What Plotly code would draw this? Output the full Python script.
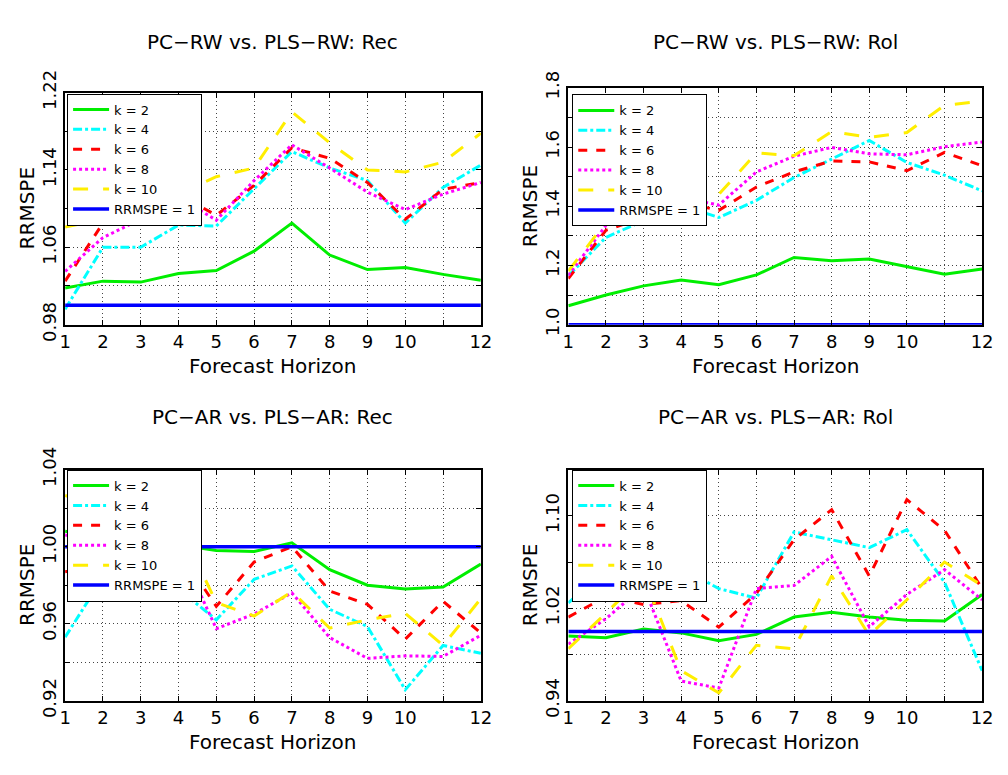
import plotly.graph_objects as go

# ---------------- data ----------------
horizon = list(range(1, 13))
x_tick_labels = ["1", "2", "3", "4", "5", "6", "7", "8", "9", "10", "", "12"]
rrmspe_ref = 1.0

series_names = ["k = 2", "k = 4", "k = 6", "k = 8", "k = 10"]
ref_name = "RRMSPE = 1"

# PC-RW vs PLS-RW: Rec
rw_rec_k2 = [1.018, 1.025, 1.024, 1.033, 1.036, 1.056, 1.085, 1.052, 1.037, 1.039, 1.032, 1.026]
rw_rec_k4 = [0.996, 1.060, 1.060, 1.083, 1.082, 1.120, 1.159, 1.142, 1.129, 1.085, 1.122, 1.145]
rw_rec_k6 = [1.025, 1.085, 1.093, 1.115, 1.093, 1.124, 1.163, 1.152, 1.127, 1.089, 1.120, 1.127]
rw_rec_k8 = [1.035, 1.070, 1.089, 1.112, 1.088, 1.129, 1.166, 1.142, 1.117, 1.099, 1.115, 1.127]
rw_rec_k10 = [1.081, 1.089, 1.094, 1.115, 1.133, 1.142, 1.200, 1.168, 1.140, 1.138, 1.148, 1.178]

# PC-RW vs PLS-RW: Rol
rw_rol_k2 = [1.064, 1.100, 1.131, 1.151, 1.135, 1.168, 1.227, 1.216, 1.222, 1.195, 1.170, 1.188]
rw_rol_k4 = [1.165, 1.295, 1.351, 1.404, 1.362, 1.420, 1.497, 1.559, 1.622, 1.548, 1.505, 1.452]
rw_rol_k6 = [1.156, 1.319, 1.362, 1.415, 1.386, 1.465, 1.516, 1.553, 1.550, 1.520, 1.582, 1.537]
rw_rol_k8 = [1.167, 1.335, 1.404, 1.430, 1.404, 1.516, 1.569, 1.599, 1.577, 1.574, 1.601, 1.617]
rw_rol_k10 = [1.181, 1.346, 1.400, 1.430, 1.440, 1.580, 1.571, 1.652, 1.633, 1.649, 1.741, 1.755]

# PC-AR vs PLS-AR: Rec
ar_rec_k2 = [1.008, 1.005, 1.003, 1.001, 0.998, 0.9975, 1.002, 0.988, 0.980, 0.978, 0.979, 0.991]
ar_rec_k4 = [0.953, 0.984, 0.988, 0.978, 0.962, 0.983, 0.990, 0.9675, 0.9585, 0.9257, 0.9487, 0.9446]
ar_rec_k6 = [0.987, 0.990, 0.995, 0.998, 0.969, 0.992, 1.000, 0.977, 0.970, 0.952, 0.9716, 0.9552]
ar_rec_k8 = [1.006, 1.003, 1.001, 1.000, 0.9574, 0.965, 0.976, 0.9528, 0.942, 0.9433, 0.943, 0.954]
ar_rec_k10 = [1.0266, 1.020, 1.015, 1.012, 0.971, 0.964, 0.9766, 0.9577, 0.962, 0.9654, 0.9487, 0.973]

# PC-AR vs PLS-AR: Rol
ar_rol_k2 = [0.996, 0.9946, 1.002, 0.9987, 0.992, 0.9974, 1.0124, 1.0165, 1.0124, 1.0097, 1.0091, 1.032]
ar_rol_k4 = [1.0247, 1.054, 1.052, 1.055, 1.037, 1.0288, 1.086, 1.0793, 1.0725, 1.088, 1.0425, 0.966]
ar_rol_k6 = [1.0124, 1.030, 1.0233, 1.0266, 1.0037, 1.0329, 1.0793, 1.1053, 1.048, 1.114, 1.0875, 1.037]
ar_rol_k8 = [0.989, 1.011, 1.039, 0.957, 0.951, 1.037, 1.0397, 1.0649, 1.004, 1.032, 1.0534, 1.0274]
ar_rol_k10 = [0.985, 1.0157, 1.048, 0.966, 0.9468, 0.988, 0.985, 1.048, 0.9966, 1.0274, 1.060, 1.0397]

panel_titles = ["PC\u2212RW vs. PLS\u2212RW: Rec", "PC\u2212RW vs. PLS\u2212RW: Rol",
                "PC\u2212AR vs. PLS\u2212AR: Rec", "PC\u2212AR vs. PLS\u2212AR: Rol"]

y_grid_1 = [0.98, 1.02, 1.06, 1.10, 1.14, 1.18, 1.22]
y_text_1 = ["0.98", "", "1.06", "", "1.14", "", "1.22"]
y_grid_2 = [1.0, 1.1, 1.2, 1.3, 1.4, 1.5, 1.6, 1.7, 1.8]
y_text_2 = ["1.0", "", "1.2", "", "1.4", "", "1.6", "", "1.8"]
y_grid_3 = [0.92, 0.94, 0.96, 0.98, 1.00, 1.02, 1.04]
y_text_3 = ["0.92", "", "0.96", "", "1.00", "", "1.04"]
y_grid_4 = [0.94, 0.98, 1.02, 1.06, 1.10, 1.14]
y_text_4 = ["0.94", "", "1.02", "", "1.10", ""]

y_ranges = [[0.98, 1.22], [1.0, 1.8], [0.92, 1.04], [0.94, 1.14]]

panels = [
    [rw_rec_k2, rw_rec_k4, rw_rec_k6, rw_rec_k8, rw_rec_k10],
    [rw_rol_k2, rw_rol_k4, rw_rol_k6, rw_rol_k8, rw_rol_k10],
    [ar_rec_k2, ar_rec_k4, ar_rec_k6, ar_rec_k8, ar_rec_k10],
    [ar_rol_k2, ar_rol_k4, ar_rol_k6, ar_rol_k8, ar_rol_k10],
]
y_grids = [(y_grid_1, y_text_1), (y_grid_2, y_text_2), (y_grid_3, y_text_3), (y_grid_4, y_text_4)]

# ---------------- style ----------------
colors = ["#00ee00", "#00ffff", "#ff0000", "#ff00ff", "#ffee00"]
dashes = ["solid", "dashdot", "dash", "dot", "longdash"]
ref_color = "#0000ff"
FONT = "DejaVu Sans"

OFF = 8
W, H = 1008 - 2 * OFF, 775 - 2 * OFF


def fx(px):
    return (px - OFF) / W


def fy(py):
    return 1 - (py - OFF) / H


# pixel boxes: (left, right, top, bottom)
boxes = [(60, 483, 73, 318), (572, 993, 68, 318), (60, 483, 471, 715), (572, 993, 471, 715)]
legend_pos = [(62, 74), (576, 75), (62, 471), (576, 471)]

fig = go.Figure()
layout = dict(
    width=W, height=H, autosize=False,
    margin=dict(l=0, r=0, t=0, b=0),
    paper_bgcolor="white", plot_bgcolor="white",
    font=dict(family=FONT, color="black", size=16),
    annotations=[],
)

for i in range(4):
    sfx = "" if i == 0 else str(i + 1)
    xa, ya = "x" + sfx, "y" + sfx
    leg = "legend" + sfx
    for j, vals in enumerate(panels[i]):
        fig.add_trace(go.Scatter(
            x=horizon, y=vals, mode="lines", name=series_names[j],
            line=dict(color=colors[j], width=3, dash=dashes[j]),
            xaxis=xa, yaxis=ya, legend=leg, showlegend=True))
    fig.add_trace(go.Scatter(
        x=horizon, y=[rrmspe_ref] * len(horizon), mode="lines", name=ref_name,
        line=dict(color=ref_color, width=3.5),
        xaxis=xa, yaxis=ya, legend=leg, showlegend=True))

    l, r, t, b = boxes[i]
    axis_common = dict(
        showline=True, linecolor="black", linewidth=2, mirror="ticks",
        ticks="inside", ticklen=5, tickcolor="black", tickwidth=1,
        showgrid=True, gridcolor="#444444", griddash="1px,3px", gridwidth=1,
        zeroline=False, tickfont=dict(family=FONT, size=18, color="black"),
    )
    layout["xaxis" + sfx] = dict(
        domain=[fx(l), fx(r)], range=[1, 12], anchor=ya,
        tickmode="array", tickvals=horizon, ticktext=x_tick_labels, **axis_common)
    gv, gt = y_grids[i]
    layout["yaxis" + sfx] = dict(
        domain=[fy(b), fy(t)], range=y_ranges[i], anchor=xa,
        tickmode="array", tickvals=gv, ticktext=gt, tickangle=-90, **axis_common)
    lx, ly = legend_pos[i]
    layout[leg] = dict(
        x=fx(lx), y=fy(ly), xref="paper", yref="paper", xanchor="left", yanchor="top",
        bgcolor="white", bordercolor="black", borderwidth=1, itemwidth=36,
        font=dict(family=FONT, size=13, color="black"), tracegroupgap=0,
    )
    cx = (l + r) / 2
    ty = 20 if i < 2 else 415
    layout["annotations"].append(dict(
        text=panel_titles[i], x=fx(cx), y=fy(ty), xref="paper", yref="paper",
        showarrow=False, xanchor="center", yanchor="middle",
        font=dict(family=FONT, size=20, color="black")))
    layout["annotations"].append(dict(
        text="Forecast Horizon", x=fx(cx), y=fy(b + 44), xref="paper", yref="paper",
        showarrow=False, xanchor="center", yanchor="middle",
        font=dict(family=FONT, size=20, color="black")))
    layout["annotations"].append(dict(
        text="RRMSPE", x=fx(l - 39), y=fy((t + b) / 2), xref="paper", yref="paper",
        showarrow=False, xanchor="center", yanchor="middle", textangle=-90,
        font=dict(family=FONT, size=20, color="black")))

fig.update_layout(**layout)
fig.write_html("out.html")
